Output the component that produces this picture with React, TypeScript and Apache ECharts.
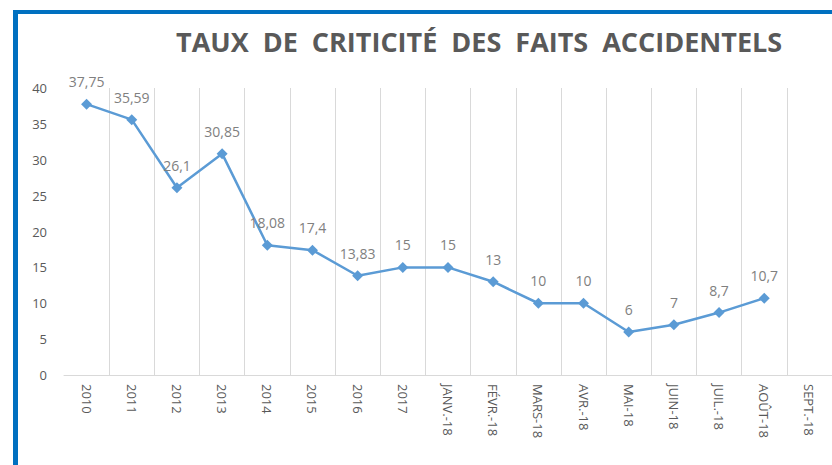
import React, { useEffect, useRef } from "react";
import * as echarts from "echarts";

const categories = [
  "2010", "2011", "2012", "2013", "2014", "2015", "2016", "2017",
  "JANV.-18", "FÉVR.-18", "MARS-18", "AVR.-18", "MAI-18", "JUIN-18",
  "JUIL.-18", "AOÛT-18", "SEPT.-18",
];
const values: (number | null)[] = [
  37.75, 35.59, 26.1, 30.85, 18.08, 17.4, 13.83, 15, 15, 13, 10, 10, 6, 7, 8.7, 10.7, null,
];
const yTicks = { min: 0, max: 40, interval: 5 };
const title = "TAUX  DE  CRITICITÉ  DES  FAITS  ACCIDENTELS";

export default function App() {
  const ref = useRef<HTMLDivElement>(null);
  useEffect(() => {
    if (!ref.current) return;
    const chart = echarts.init(ref.current, null, { renderer: "svg" });
    chart.setOption({
      animation: false,
      backgroundColor: "#ffffff",
      textStyle: { fontFamily: "Open Sans" },
      graphic: [
        { type: "rect", left: 13, top: 10, shape: { width: 5, height: 455 }, style: { fill: "#0070c0" } },
        { type: "rect", left: 13, top: 10, shape: { width: 819, height: 4 }, style: { fill: "#0070c0" } },
        {
          type: "text",
          left: 176,
          top: 28,
          style: {
            text: title,
            fill: "#595959",
            font: "bold 27px 'Open Sans'",
          },
        },
      ],
      grid: { left: 64, right: -12, top: 88, bottom: 90, containLabel: false },
      xAxis: {
        type: "category",
        data: categories,
        boundaryGap: true,
        axisLine: { lineStyle: { color: "#d9d9d9", width: 1 } },
        axisTick: { show: false },
        axisLabel: {
          rotate: -90,
          interval: 0,
          margin: 9,
          color: "#595959",
          fontSize: 13,
          fontFamily: "Open Sans",
        },
        splitLine: { show: true, showMinLine: false, lineStyle: { color: "#d9d9d9", width: 1 } },
      },
      yAxis: {
        type: "value",
        min: yTicks.min,
        max: yTicks.max,
        interval: yTicks.interval,
        axisLine: { show: false },
        axisTick: { show: false },
        splitLine: { show: false },
        axisLabel: { color: "#595959", fontSize: 13, margin: 17, fontFamily: "Open Sans" },
      },
      series: [
        {
          type: "line",
          data: values,
          symbol: "diamond",
          symbolSize: 11,
          lineStyle: { color: "#5b9bd5", width: 2.5 },
          itemStyle: { color: "#5b9bd5" },
          label: {
            show: true,
            position: "top",
            distance: 10,
            color: "#808080",
            fontSize: 14,
            fontFamily: "Open Sans",
            formatter: (p: any) => String(p.value).replace(".", ","),
          },
        },
      ],
    });
    return () => chart.dispose();
  }, []);
  return <div ref={ref} style={{ width: 832, height: 465, position: "absolute", left: 0, top: 0 }} />;
}
